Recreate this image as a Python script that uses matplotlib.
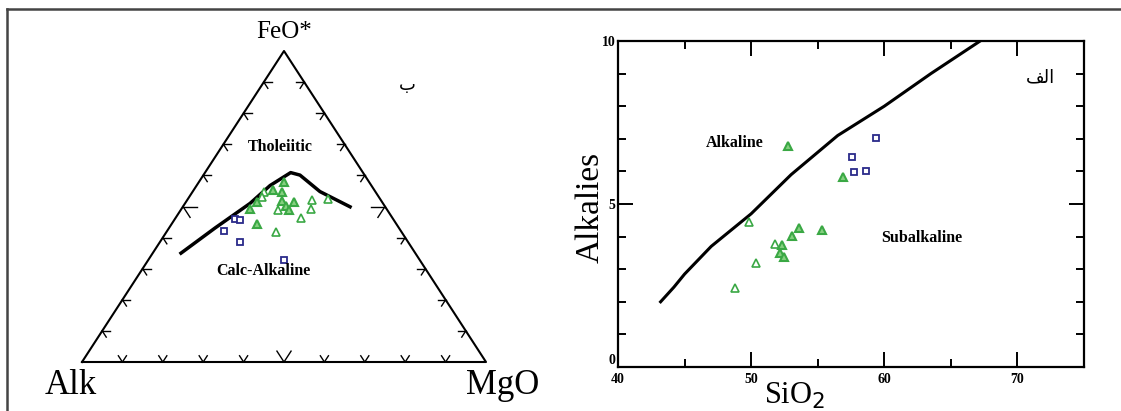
import numpy as np
import matplotlib
matplotlib.use('Agg')
import matplotlib.pyplot as plt
from matplotlib.lines import Line2D

plt.rcParams['font.family'] = ['Liberation Serif', 'DejaVu Sans']

# Datos del diagrama AFM (porcentajes FeO*, Alk, MgO)
afm_tri_fill_feo = [57.9, 55.3, 54.7, 51.4, 51.8, 50.2, 51.4, 49.2, 48.9, 44.4]
afm_tri_fill_alk = [21.1, 25.1, 23.2, 31.0, 24.6, 24.4, 21.8, 33.8, 24.3, 34.5]
afm_tri_fill_mgo = [21.0, 19.6, 22.1, 17.6, 23.6, 25.4, 26.8, 17.0, 26.8, 21.1]

afm_tri_open_feo = [54.7, 53.1, 52.1, 52.4, 48.9, 49.2, 46.3, 41.8]
afm_tri_open_alk = [27.6, 28.9, 17.0, 12.9, 27.1, 18.7, 22.6, 31.1]
afm_tri_open_mgo = [17.7, 18.0, 30.9, 34.7, 24.1, 32.1, 31.1, 27.1]

afm_sq_feo = [46.0, 45.7, 42.1, 38.6, 32.8]
afm_sq_alk = [39.2, 38.1, 43.8, 41.6, 33.6]
afm_sq_mgo = [14.9, 16.3, 14.1, 19.8, 33.6]

# Limite toleitico / calco-alcalino
afm_line_feo = [35.0, 43.1, 51.0, 56.8, 59.8, 60.9, 60.1, 54.8, 49.9]
afm_line_alk = [58.0, 45.5, 32.9, 25.1, 19.8, 17.9, 16.0, 13.7, 8.7]
afm_line_mgo = [7.0, 11.4, 16.1, 18.2, 20.4, 21.2, 23.9, 31.5, 41.4]

# Datos del diagrama SiO2 vs Alcalis
tas_tri_fill_si = [52.8, 56.9, 53.6, 55.3, 53.1, 52.35, 52.2, 52.5]
tas_tri_fill_alk = [6.79, 5.82, 4.25, 4.20, 4.02, 3.74, 3.49, 3.38]
tas_tri_open_si = [49.85, 51.8, 50.4, 48.75]
tas_tri_open_alk = [4.46, 3.77, 3.18, 2.41]
tas_sq_si = [59.4, 57.6, 57.75, 58.6]
tas_sq_alk = [7.03, 6.43, 5.97, 6.01]

tas_line_si = [43.2, 44.2, 45.0, 47.0, 50.0, 53.0, 56.5, 60.0, 63.5, 67.2]
tas_line_alk = [2.0, 2.45, 2.85, 3.7, 4.7, 5.9, 7.1, 8.0, 9.0, 10.0]

H = np.sqrt(3) / 2
green = '#3aa844'
fill_green = '#86d080'
navy = '#2a2a8a'


# Convierte composiciones ternarias a coordenadas cartesianas
def ternary_xy(feo, alk, mgo):
    feo = np.asarray(feo, float)
    alk = np.asarray(alk, float)
    mgo = np.asarray(mgo, float)
    tot = feo + alk + mgo
    f = feo / tot
    m = mgo / tot
    return m + 0.5 * f, H * f


fig = plt.figure(figsize=(11.21, 4.11), dpi=100)

# Marco de la figura
fig.add_artist(Line2D([7 / 1121, 1.0], [1 - 9 / 411, 1 - 9 / 411], color='#444444', lw=1.8))
fig.add_artist(Line2D([7 / 1121, 7 / 1121], [0.0, 1 - 9 / 411], color='#444444', lw=1.8))

# ---- Diagrama AFM ----
ax1 = fig.add_axes([82 / 1121, 49 / 411, 404 / 1121, 311 / 411])
ax1.set_xlim(0, 1)
ax1.set_ylim(0, H)
ax1.axis('off')

ax1.plot([0, 1, 0.5, 0], [0, 0, H, 0], color='black', lw=1.5, clip_on=False)

# Marcas en los lados del triangulo
dir_left = np.array([0.5, H])     # Alk -> FeO
dir_right = np.array([-0.5, H])   # MgO -> FeO
dir_bottom = np.array([1.0, 0.0])  # Alk -> MgO
for i in range(1, 10):
    t = i / 10
    size = 0.035 if i == 5 else 0.02
    edges = [
        (np.array([t, 0.0]), dir_left, dir_right),
        (np.array([0.5 * t, H * t]), dir_bottom, -dir_right),
        (np.array([1 - 0.5 * t, H * t]), -dir_bottom, -dir_left),
    ]
    for p, d1, d2 in edges:
        for d in (d1, d2):
            q = p + size * d
            ax1.plot([p[0], q[0]], [p[1], q[1]], color='black', lw=1.0)

x, y = ternary_xy(afm_line_feo, afm_line_alk, afm_line_mgo)
ax1.plot(x, y, color='black', lw=2.5)

x, y = ternary_xy(afm_tri_open_feo, afm_tri_open_alk, afm_tri_open_mgo)
ax1.plot(x, y, '^', ms=6, mfc='white', mec=green, mew=1.2, ls='none')
x, y = ternary_xy(afm_tri_fill_feo, afm_tri_fill_alk, afm_tri_fill_mgo)
ax1.plot(x, y, '^', ms=6, mfc=fill_green, mec=green, mew=1.5, ls='none')
x, y = ternary_xy(afm_sq_feo, afm_sq_alk, afm_sq_mgo)
ax1.plot(x, y, 's', ms=5, mfc='white', mec=navy, mew=1.3, ls='none')

ax1.text(0.5, 0.92, 'FeO*', fontsize=18, ha='center', va='center', clip_on=False)
ax1.text(-0.028, -0.065, 'Alk', fontsize=25, ha='center', va='center', clip_on=False)
ax1.text(1.04, -0.065, 'MgO', fontsize=25, ha='center', va='center', clip_on=False)
ax1.text(0.49, 0.60, 'Tholeiitic', fontsize=11.5, fontweight='bold', ha='center', va='center')
ax1.text(0.448, 0.253, 'Calc-Alkaline', fontsize=11.5, fontweight='bold', ha='center', va='center')
ax1.text(0.804, 0.77, '\u0628', fontsize=13, ha='center', va='center',
         family=['DejaVu Sans'], clip_on=False)

# ---- Diagrama SiO2 - Alcalis ----
ax2 = fig.add_axes([618 / 1121, 44 / 411, 466 / 1121, 326 / 411])
ax2.set_xlim(40, 75)
ax2.set_ylim(0, 10)

ax2.plot(tas_line_si, tas_line_alk, color='black', lw=2.2)
ax2.plot(tas_tri_open_si, tas_tri_open_alk, '^', ms=6, mfc='white', mec=green, mew=1.2, ls='none')
ax2.plot(tas_tri_fill_si, tas_tri_fill_alk, '^', ms=6, mfc=fill_green, mec=green, mew=1.5, ls='none')
ax2.plot(tas_sq_si, tas_sq_alk, 's', ms=5, mfc='white', mec=navy, mew=1.3, ls='none')

ax2.set_xticks([40, 50, 60, 70])
ax2.set_xticks([45, 55, 65], minor=True)
ax2.set_yticks([0, 5, 10])
ax2.set_yticks([1, 2, 3, 4, 6, 7, 8, 9], minor=True)
ax2.tick_params(which='both', direction='in', top=True, right=True, width=1.4,
                labelsize=10)
ax2.tick_params(axis='x', pad=4)
ax2.tick_params(axis='y', pad=2)
ax2.tick_params(which='major', length=11)
ax2.tick_params(which='minor', length=5.5)
for lab in ax2.get_xticklabels() + ax2.get_yticklabels():
    lab.set_fontweight('bold')
ax2.get_yticklabels()[0].set_va('bottom')
for s in ax2.spines.values():
    s.set_linewidth(1.6)

ax2.set_xlabel('SiO$_2$', fontsize=22)
ax2.xaxis.set_label_coords(0.38, -0.042)
ax2.set_ylabel('Alkalies', fontsize=24)
ax2.yaxis.set_label_coords(-0.026, 0.49)

ax2.text(48.8, 6.87, 'Alkaline', fontsize=11.5, fontweight='bold', ha='center', va='center')
ax2.text(62.8, 3.96, 'Subalkaline', fontsize=11.5, fontweight='bold', ha='center', va='center')
ax2.text(71.7, 8.87, '\uFED2\uFEDF\uFE8D', fontsize=13, ha='center', va='center',
         family=['DejaVu Sans'])

plt.savefig('out.png', dpi=100)
